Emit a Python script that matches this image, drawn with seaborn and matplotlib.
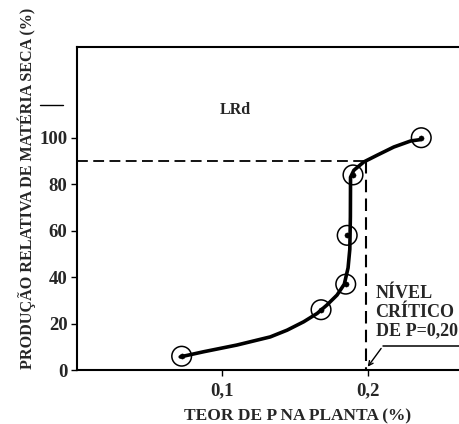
import matplotlib

matplotlib.use("Agg")
import matplotlib.pyplot as plt
import pandas as pd
import seaborn as sns

# observed points (circles)
teor_p = [0.072, 0.168, 0.185, 0.186, 0.190, 0.237]
producao = [6, 26, 37, 58, 84, 100]

# fitted curve
curve_x = [0.071, 0.087, 0.110, 0.133, 0.1446, 0.156, 0.1653, 0.172, 0.179, 0.184,
           0.1866, 0.1878, 0.1882, 0.1883, 0.1906, 0.1975, 0.2067, 0.2181, 0.2297, 0.2366]
curve_y = [5.7, 7.9, 10.8, 14.3, 17.2, 20.8, 24.4, 28, 32.3, 37,
           44, 52, 66, 83, 86, 89.6, 92.5, 96, 98.6, 99.2]

nivel_critico = 0.199
producao_critica = 90

x_ticks = [0.1, 0.2]
x_tick_labels = ["0,1", "0,2"]
y_ticks = [0, 20, 40, 60, 80, 100]

sns.set_style("ticks")
plt.rcParams["font.family"] = ["Liberation Serif", "DejaVu Serif"]
plt.rcParams["font.weight"] = "bold"

fig = plt.figure(figsize=(4.59, 4.24), dpi=100)
ax = fig.add_axes([0.168, 0.127, 0.832, 0.762])

pts = pd.DataFrame({"x": teor_p, "y": producao})
curve = pd.DataFrame({"x": curve_x, "y": curve_y})

sns.lineplot(data=curve, x="x", y="y", sort=False, color="black", linewidth=2.6,
             solid_joinstyle="round", solid_capstyle="round", ax=ax)
sns.scatterplot(data=pts, x="x", y="y", marker="o", s=200, facecolor="none",
                edgecolor="black", linewidth=1.1, ax=ax, zorder=3)
sns.scatterplot(data=pts, x="x", y="y", marker="o", s=14, color="black",
                edgecolor="black", ax=ax, zorder=4)

ax.plot([0, nivel_critico], [producao_critica, producao_critica], ls=(0, (6, 3)),
        color="black", lw=1.3)
ax.plot([nivel_critico, nivel_critico], [producao_critica, 0], ls=(0, (6, 3)),
        color="black", lw=1.5)

ax.text(0.109, 112, "LRd", fontsize=11.5, fontweight="bold", ha="center", va="center")
ax.text(0.2055, 36.5, "NÍVEL\nCRÍTICO\nDE P=0,20", fontsize=13, fontweight="bold",
        ha="left", va="top", linespacing=1.12)
ax.plot([0.2105, 0.27], [10.3, 10.3], color="black", lw=1.1, clip_on=False)
ax.annotate("", xy=(nivel_critico, 0.5), xytext=(0.2105, 10.3),
            arrowprops=dict(arrowstyle="->", color="black", lw=1.0, mutation_scale=8))
ax.plot([-0.0255, -0.0097], [114, 114], color="black", lw=1.0, clip_on=False)

ax.set_xlim(0, 0.263)
ax.set_ylim(0, 139)
ax.set_xticks(x_ticks)
ax.set_xticklabels(x_tick_labels)
ax.set_yticks(y_ticks)
ax.tick_params(labelsize=13.5, length=4, width=1.0, color="black")
ax.tick_params(axis="x", pad=5)
ax.tick_params(axis="y", pad=3)
for lab in ax.get_xticklabels() + ax.get_yticklabels():
    lab.set_fontweight("bold")

ax.set_xlabel("TEOR DE P NA PLANTA (%)", fontsize=12.5, fontweight="bold")
ax.set_ylabel("PRODUÇÃO RELATIVA DE MATÉRIA SECA (%)", fontsize=11.6, fontweight="bold")
ax.xaxis.set_label_coords(0.578, -0.118)
ax.yaxis.set_label_coords(-0.107, 0.563)

ax.spines["right"].set_visible(False)
for s in ["left", "bottom", "top"]:
    ax.spines[s].set_linewidth(1.5)
    ax.spines[s].set_color("black")

fig.savefig("out.png", dpi=100, facecolor="white")
